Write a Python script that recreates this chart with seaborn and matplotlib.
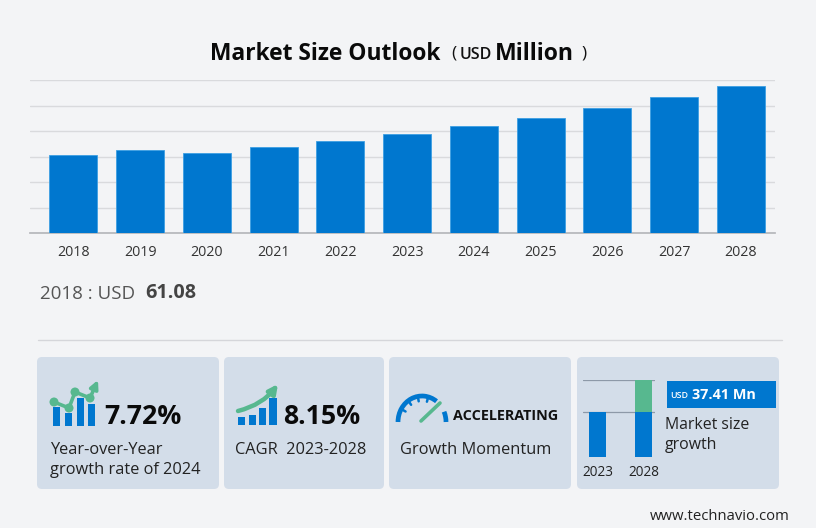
import numpy as np
import pandas as pd
import matplotlib
matplotlib.use("Agg")
import matplotlib.pyplot as plt
from matplotlib.patches import FancyBboxPatch, Rectangle, Arc, FancyArrowPatch, Circle
import seaborn as sns

years = ["2018", "2019", "2020", "2021", "2022", "2023", "2024", "2025", "2026", "2027", "2028"]
market_size = [61.08, 65.0, 63.0, 67.3, 72.4, 77.9, 83.9, 90.4, 97.9, 106.5, 115.3]
y_ticks = [0, 20, 40, 60, 80, 100, 120]

mini_years = ["2023", "2028"]
mini_base = [45, 45]
mini_gain = [0, 32]

BG = "#f3f4f6"
CARD = "#d3dde9"
BLUE = "#0077cf"
GREEN = "#57b88f"
GRID = "#d9dadd"
FONT = "Open Sans"

sns.set_theme(style="white")
plt.rcParams["font.family"] = [FONT, "DejaVu Sans"]

fig = plt.figure(figsize=(8.16, 5.28), dpi=100, facecolor=BG)


def px_axes(left, top, right, bottom, **kwargs):
    # axes placed with pixel edges, y counted from the top of the image
    return fig.add_axes([left / 816, 1 - bottom / 528, (right - left) / 816, (bottom - top) / 528], **kwargs)


# page layer in pixel coordinates
page = px_axes(0, 0, 816, 528)
page.set_xlim(0, 816)
page.set_ylim(528, 0)
page.axis("off")

# main chart
ax = px_axes(30, 80, 775, 233)
ax.set_facecolor("none")
df = pd.DataFrame({"year": years, "size": market_size})
sns.barplot(data=df, x="year", y="size", color=BLUE, saturation=1, width=0.72, ax=ax,
            edgecolor="#3d9fe3", linewidth=0.6, zorder=3)
ax.set_xlim(-0.65, 10.51)
ax.set_ylim(0, 120)
ax.set_yticks(y_ticks)
ax.set_yticklabels([])
ax.set_xlabel("")
ax.set_ylabel("")
ax.grid(axis="y", color=GRID, linewidth=1)
ax.set_axisbelow(True)
sns.despine(ax=ax, left=True, top=True, right=True)
ax.spines["bottom"].set_color("#b5b7bb")
ax.tick_params(axis="x", length=0, labelsize=10.3, labelcolor="#333333", pad=9)
ax.tick_params(axis="y", length=0)

# title
page.text(325, 53.5, "Market Size Outlook", ha="center", va="center", fontsize=16.4, fontweight="bold", color="#0a0a0a")
page.text(451, 54, "(", ha="left", va="center", fontsize=12.5, color="#111111")
page.text(460, 55, "USD", ha="left", va="center", fontsize=11.5, fontweight="semibold", color="#111111")
page.text(495, 53.5, "Million", ha="left", va="center", fontsize=16.6, fontweight="bold", color="#0a0a0a")
page.text(581, 54, ")", ha="left", va="center", fontsize=12.5, color="#111111")

page.text(40, 294, "2018 : USD", ha="left", va="center", fontsize=13.5, color="#555555")
page.text(145, 293, "61.08", ha="left", va="center", fontsize=14.2, fontweight="bold", color="#444444")

page.plot([38, 782], [340, 340], color="#d5d6da", linewidth=1)

# cards
for left, right in [(37, 219), (224, 384), (389, 571), (577, 779)]:
    page.add_patch(FancyBboxPatch((left + 4, 361), right - left - 8, 124,
                                  boxstyle="round,pad=4,rounding_size=5", facecolor=CARD, edgecolor="none"))

# card 1 icon
for x0, top in [(53, 407), (65, 413), (77, 398), (88, 404)]:
    page.add_patch(Rectangle((x0, top), 7, 426 - top, color=BLUE, lw=0))
page.plot([54, 69, 75, 90], [402, 408, 392, 398], color=GREEN, lw=2.6, zorder=4)
for cx, cy in [(54, 402), (69, 408), (75, 392), (90, 398)]:
    page.add_patch(Circle((cx, cy), 4.5, color=GREEN, lw=0, zorder=5))
page.add_patch(FancyArrowPatch((90, 398), (98, 380), arrowstyle="-|>", mutation_scale=12, color=GREEN, lw=2.6,
                               shrinkA=0, shrinkB=0, zorder=5))
page.text(104, 417, "7.72%", ha="left", va="center", fontsize=19.2, fontweight="bold", color="#0a0a0a")
page.text(50, 450, "Year-over-Year", ha="left", va="center", fontsize=11.8, color="#222222")
page.text(50, 470, "growth rate of 2024", ha="left", va="center", fontsize=11.8, color="#222222")

# card 2 icon
for x0, w, top in [(238, 7, 417), (249, 7, 415), (259, 7, 408), (269, 8, 398)]:
    page.add_patch(Rectangle((x0, top), w, 425 - top, color=BLUE, lw=0))
page.add_patch(FancyArrowPatch((238, 411), (278, 384), connectionstyle="arc3,rad=0.18", arrowstyle="-|>",
                               mutation_scale=13, color=GREEN, lw=3.2, shrinkA=0, shrinkB=0, zorder=5))
page.text(283, 417, "8.15%", ha="left", va="center", fontsize=19.2, fontweight="bold", color="#0a0a0a")
page.text(235, 450, "CAGR  2023-2028", ha="left", va="center", fontsize=11.8, color="#222222")

# card 3 gauge
page.add_patch(Arc((422, 422), 48, 52, theta1=180, theta2=305, color=BLUE, lw=3.4))
page.add_patch(Arc((422, 422), 48, 52, theta1=335, theta2=360, color=BLUE, lw=3.4))
for ang in np.radians([150, 125, 100, 75]):
    page.plot([422 + 19 * np.cos(ang), 422 + 23 * np.cos(ang)],
              [422 - 21 * np.sin(ang), 422 - 25 * np.sin(ang)], color=BLUE, lw=1.8)
page.plot([421, 440], [421, 403], color=GREEN, lw=2.6, solid_capstyle="round")
page.text(453, 416, "ACCELERATING", ha="left", va="center", fontsize=10.4, fontweight="bold", color="#111111")
page.text(400, 450, "Growth Momentum", ha="left", va="center", fontsize=11.8, color="#222222")

# card 4 mini chart
mini = px_axes(583, 380, 655, 457)
mini.set_facecolor("none")
mini_df = pd.DataFrame({"year": mini_years, "base": mini_base, "gain": mini_gain})
sns.barplot(data=mini_df, x="year", y="base", color=BLUE, saturation=1, width=0.37, linewidth=0, ax=mini, zorder=3)
mini.bar(mini_years, mini_gain, bottom=mini_base, color=GREEN, width=0.37, linewidth=0, zorder=3)
mini.set_xlim(-0.315, 1.25)
mini.set_ylim(0, 77)
mini.set_yticks([45, 77])
mini.set_yticklabels([])
mini.grid(axis="y", color="#8d99a8", linewidth=0.9)
mini.set_axisbelow(False)
mini.set_xlabel("")
mini.set_ylabel("")
sns.despine(ax=mini, left=True, top=True, right=True, bottom=True)
mini.tick_params(axis="both", length=0)
mini.tick_params(axis="x", labelsize=9.8, labelcolor="#222222", pad=6)

page.add_patch(Rectangle((667, 381), 109, 27, color=BLUE, lw=0, zorder=3))
page.text(670, 396, "USD", ha="left", va="center", fontsize=6.4, fontweight="semibold", color="white", zorder=4)
page.text(692, 395, "37.41 Mn", ha="left", va="center", fontsize=10.4, fontweight="bold", color="white", zorder=4)
page.text(665, 425, "Market size", ha="left", va="center", fontsize=11.4, color="#222222")
page.text(665, 445, "growth", ha="left", va="center", fontsize=11.4, color="#222222")

page.text(790, 517, "www.technavio.com", ha="right", va="center", fontsize=10.7, color="#222222")

fig.savefig("out.png", dpi=100, facecolor=BG)
